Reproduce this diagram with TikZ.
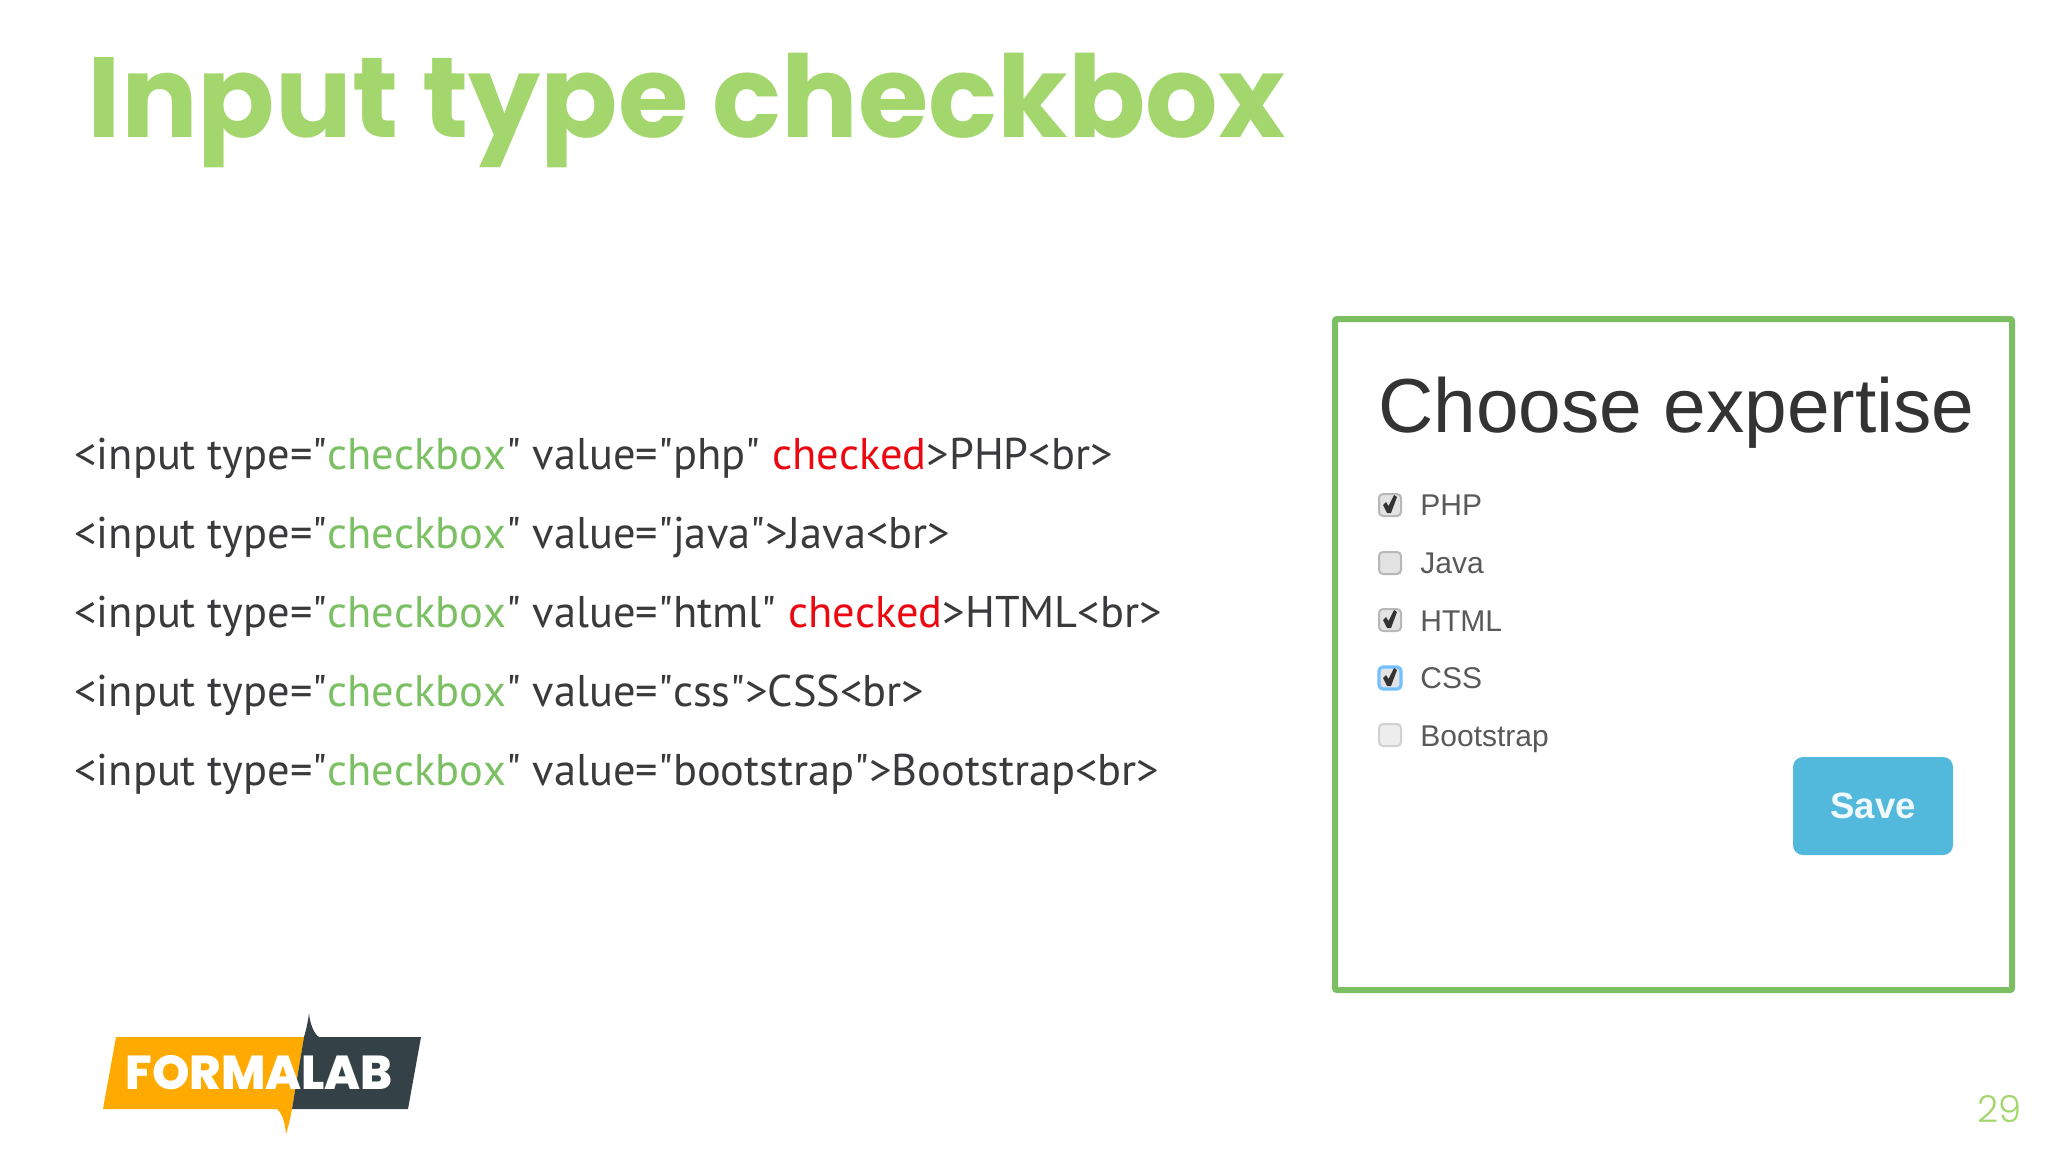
\documentclass[tikz,border=0pt]{standalone}
\usepackage{fontspec}
\usetikzlibrary{positioning}
\newfontfamily\codefont[Kerning=Off]{PT Sans}
\newfontfamily\titlefont{Poppins}
\newfontfamily\thinfont{Poppins Light}
\newfontfamily\logofont{Poppins ExtraBold}
\newfontfamily\uifont{Liberation Sans}
\definecolor{fl_title}{RGB}{163, 214, 108}
\definecolor{fl_green}{RGB}{124, 192, 100}
\definecolor{fl_frame}{RGB}{124, 190, 98}
\definecolor{fl_text}{RGB}{58, 58, 60}
\definecolor{fl_red}{RGB}{236, 8, 16}
\definecolor{fl_orange}{RGB}{255, 170, 0}
\definecolor{fl_slate}{RGB}{52, 66, 71}
\definecolor{fl_button}{RGB}{82, 184, 220}
\newcommand{\chk}{\textcolor{fl_green}{checkbox}}
\newcommand{\on}{\textcolor{fl_red}{checked}}
\newcommand{\tickmark}[1]{\fill [shift={(#1)},fl_tick] (-7,0) -- (-4,-3) -- (-1.5,1) -- (4,-10) -- (7,-8) -- (1,8) -- (-3,8) -- cycle;}
\colorlet{fl_tick}{black!80}
\tikzstyle{codeline}=[anchor=base west,inner sep=0pt,text=fl_text,
  font=\codefont\fontsize{22.2pt}{26pt}\selectfont]
\tikzstyle{cb}=[rectangle,rounded corners=2pt,fill=black!11,draw=black!28,
  line width=1pt,inner sep=0pt,minimum width=11pt,minimum height=11pt]
\tikzstyle{cboff}=[cb,fill=black!7,draw=black!18]
\tikzstyle{cbfocus}=[cb,draw=blue!45!cyan!55,line width=1.6pt]
\tikzstyle{cblabel}=[anchor=base west,inner sep=0pt,text=black!65,
  font=\uifont\fontsize{15pt}{18pt}\selectfont]
\begin{document}
\begin{tikzpicture}[x=0.5pt,y=-0.5pt]
    \useasboundingbox [fill=white] (0,0) rectangle (2048,1152);
    \node [anchor=base west,inner sep=0pt,text=fl_title,font=\titlefont\bfseries\fontsize{57pt}{70pt}\selectfont] (title) at (87,137) {Input type checkbox};
    % code on the left
    \node [style=codeline] (line1) at (74,469.5) {<input type="\chk" value="php" \on>PHP<br>};
    \node [style=codeline] (line2) at (74,548.5) {<input type="\chk" value="java">Java<br>};
    \node [style=codeline] (line3) at (74,627.5) {<input type="\chk" value="html" \on>HTML<br>};
    \node [style=codeline] (line4) at (74,706.5) {<input type="\chk" value="css">CSS<br>};
    \node [style=codeline] (line5) at (74,785.5) {<input type="\chk" value="bootstrap">Bootstrap<br>};
    % form screenshot
    \draw [draw=fl_frame,line width=3pt,rounded corners=1pt] (1335,319) rectangle (2012,990);
    \node [anchor=base west,inner sep=0pt,text=black!80,font=\uifont\fontsize{38.3pt}{44pt}\selectfont] (heading) at (1378,432) {Choose expertise};
    \node [style=cb] (cbphp) at (1390,505) {};
    \node [style=cb] (cbjava) at (1390,563) {};
    \node [style=cb] (cbhtml) at (1390,620) {};
    \node [style=cbfocus] (cbcss) at (1390,678) {};
    \node [style=cboff] (cbboot) at (1390,735) {};
    \tickmark{cbphp}
    \tickmark{cbhtml}
    \tickmark{cbcss}
    \node [style=cblabel] (lphp) at (1420,515) {PHP};
    \node [style=cblabel] (ljava) at (1420,573) {Java};
    \node [style=cblabel] (lhtml) at (1420,631) {HTML};
    \node [style=cblabel] (lcss) at (1420,688) {CSS};
    \node [style=cblabel] (lboot) at (1420,746) {Bootstrap};
    \node [rectangle,rounded corners=5pt,fill=fl_button,minimum width=80pt,minimum height=49pt,inner sep=0pt,text=cyan!6,font=\uifont\bfseries\fontsize{18.3pt}{22pt}\selectfont] (save) at (1873,806) {Save};
    % logo
    \fill [fl_orange] (103,1109) -- (116,1037) -- (304,1037) -- (292,1109) .. controls (290,1120) and (288,1128) .. (286,1134) .. controls (285,1122) and (282,1113) .. (277,1109) -- cycle;
    \fill [fl_slate] (292,1109) -- (304,1037) .. controls (306,1030) and (308,1022) .. (309,1013) .. controls (310,1024) and (314,1034) .. (319,1037) -- (421,1037) -- (408,1109) -- cycle;
    \node [anchor=base west,inner sep=0pt,text=white,font=\logofont\fontsize{23.8pt}{28pt}\selectfont] (logo) at (125,1089) {FORMALAB};
    \node [anchor=base east,inner sep=0pt,text=fl_title,font=\thinfont\fontsize{18.5pt}{23pt}\selectfont] (page) at (2022,1122) {29};
  \end{tikzpicture}
\end{document}
